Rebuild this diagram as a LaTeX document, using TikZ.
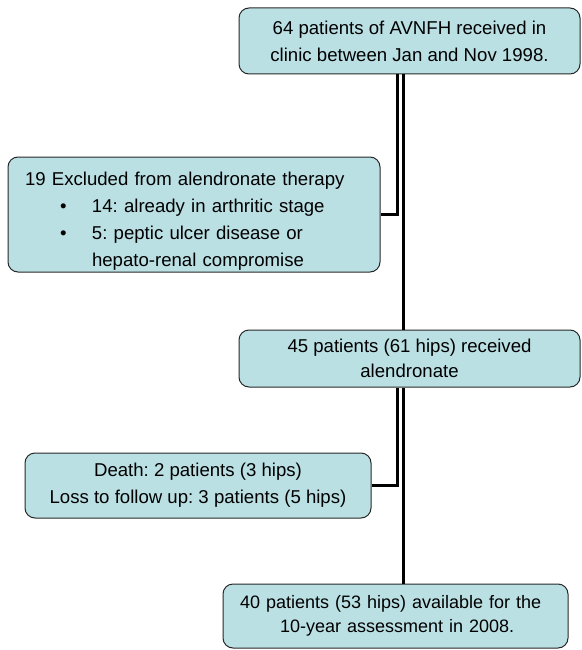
\documentclass[tikz,border=0pt]{standalone}
\usepackage{fontspec}
\setmainfont{Liberation Sans}
\frenchspacing
\definecolor{boxfill}{RGB}{186,224,228}
\definecolor{boxline}{RGB}{40,40,40}
\begin{document}
\begin{tikzpicture}[x=1pt,y=-1pt,
  flowbox/.style={draw=boxline,line width=1pt,fill=boxfill,rounded corners=10pt,
    inner sep=0pt,anchor=center,font=\fontsize{18.6}{27}\selectfont},
  conn/.style={line width=2.6pt,black}]
\useasboundingbox (0,0) rectangle (581,650);
\node[flowbox,minimum width=341pt,minimum height=66pt,align=center] (box1) at (409.5,41)
  {64 patients of AVNFH received in\\clinic between Jan and Nov 1998.};
\node[flowbox,minimum width=372pt,minimum height=115pt,align=left,text width=338pt] (box2) at (194,214.5)
  {\rule{0pt}{26pt}19 Excluded from alendronate therapy\\
   \hspace*{35pt}\makebox[32pt][l]{\textbullet}14: already in arthritic stage\\
   \hspace*{35pt}\makebox[32pt][l]{\textbullet}5: peptic ulcer disease or\\
   \hspace*{67pt}hepato-renal compromise};
\node[flowbox,minimum width=341pt,minimum height=57pt,align=center,font=\fontsize{18.6}{25}\selectfont] (box3) at (409.5,358.5)
  {45 patients (61 hips) received\\alendronate};
\node[flowbox,minimum width=346pt,minimum height=65pt,align=center] (box4) at (198,485.5)
  {Death: 2 patients (3 hips)\\Loss to follow up: 3 patients (5 hips)};
\node[flowbox,minimum width=345pt,minimum height=64pt,align=left,text width=311pt,font=\fontsize{18}{24}\selectfont] (box5) at (395.5,616)
  {40 patients (53 hips) available for the\\\hspace*{40pt}10-year assessment in 2008.};
\coordinate (mainx) at (403.5,0);
\coordinate (branchx) at (397.5,0);
\draw[conn] (box1.south -| mainx) -- (box3.north -| mainx);
\draw[conn] (box3.south -| mainx) -- (box5.north -| mainx);
\draw[conn] (box1.south -| branchx) |- (box2.east);
\draw[conn] (box3.south -| branchx) |- (box4.east);
\end{tikzpicture}
\end{document}
